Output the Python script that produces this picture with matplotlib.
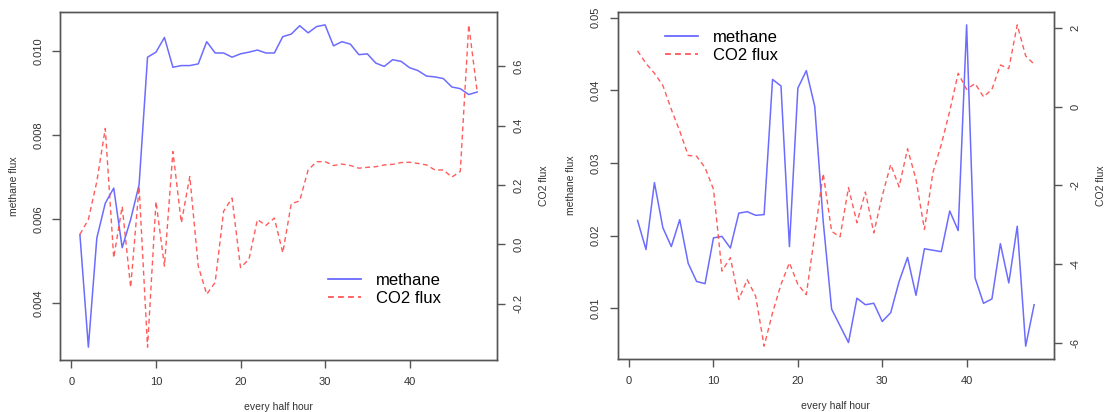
import matplotlib.pyplot as plt
from matplotlib.lines import Line2D

plt.rcParams['font.family'] = ['Liberation Sans', 'DejaVu Sans']

# half-hour index
half_hour = list(range(1, 49))

# first site
methane_a = [0.00563, 0.00295, 0.00555, 0.00638, 0.00674, 0.00532, 0.00599, 0.00682,
             0.00986, 0.00998, 0.01033, 0.00962, 0.00966, 0.00966, 0.00970, 0.01023,
             0.00996, 0.00996, 0.00986, 0.00994, 0.00998, 0.01003, 0.00996, 0.00996,
             0.01035, 0.01041, 0.01061, 0.01044, 0.01059, 0.01063, 0.01013, 0.01023,
             0.01017, 0.00992, 0.00994, 0.00972, 0.00964, 0.00980, 0.00976, 0.00961,
             0.00954, 0.00941, 0.00939, 0.00935, 0.00915, 0.00911, 0.00897, 0.00903]
co2_a = [0.034, 0.084, 0.212, 0.391, -0.045, 0.128, -0.145, 0.195,
         -0.346, 0.145, -0.073, 0.313, 0.073, 0.229, -0.073, -0.168,
         -0.128, 0.112, 0.156, -0.078, -0.050, 0.084, 0.064, 0.089,
         -0.028, 0.137, 0.147, 0.251, 0.279, 0.279, 0.266, 0.271,
         0.266, 0.257, 0.260, 0.262, 0.268, 0.270, 0.276, 0.277,
         0.273, 0.268, 0.251, 0.251, 0.227, 0.246, 0.740, 0.514]

# second site
methane_b = [0.0221, 0.0181, 0.0273, 0.0211, 0.0185, 0.0222, 0.0162, 0.0137,
             0.0134, 0.0197, 0.0199, 0.0183, 0.0231, 0.0233, 0.0228, 0.0229,
             0.0415, 0.0406, 0.0185, 0.0403, 0.0427, 0.0378, 0.0220, 0.0099,
             0.0076, 0.0053, 0.0114, 0.0105, 0.0107, 0.0082, 0.0094, 0.0137,
             0.0170, 0.0118, 0.0182, 0.0180, 0.0178, 0.0234, 0.0207, 0.0490,
             0.0142, 0.0107, 0.0113, 0.0189, 0.0135, 0.0213, 0.0048, 0.0105]
co2_b = [1.42, 1.10, 0.85, 0.54, -0.07, -0.62, -1.24, -1.26,
         -1.55, -2.10, -4.18, -3.84, -4.90, -4.40, -4.82, -6.09,
         -5.24, -4.52, -3.97, -4.52, -4.78, -3.25, -1.70, -3.17,
         -3.31, -2.06, -2.95, -2.17, -3.21, -2.27, -1.47, -2.04,
         -1.07, -1.85, -3.12, -1.68, -0.96, -0.11, 0.85, 0.44,
         0.59, 0.25, 0.44, 1.06, 0.97, 2.08, 1.29, 1.08]

blue = '#5c5cff'
red = '#ff4a4a'
edge = '#555555'
txt = '#333333'


def panel(rect, x, ch4, co2, yticks, yticklabels, y2ticks, y2ticklabels, leg_xy):
    ax = fig.add_axes(rect)
    ax.plot(x, ch4, color=blue, lw=1.1, alpha=0.9)
    ax.margins(x=0.04, y=0.04)
    ax.set_xticks([0, 10, 20, 30, 40])
    ax.set_yticks(yticks)
    ax.set_yticklabels(yticklabels, rotation=90, va='center')
    ax.set_xlabel('every half hour', fontsize=7.5, color=txt, labelpad=11)
    ax.set_ylabel('methane flux', fontsize=7.5, color=txt, labelpad=10.5)

    ax2 = ax.twinx()
    ax2.plot(x, co2, color=red, lw=1.0, alpha=0.9, dashes=(3.5, 2.5))
    ax2.margins(y=0.04)
    ax2.set_yticks(y2ticks)
    ax2.set_yticklabels(y2ticklabels, rotation=90, va='center')
    ax2.set_ylabel('CO2 flux', fontsize=7.5, color=txt, labelpad=11, rotation=90)

    for a in (ax, ax2):
        for s in a.spines.values():
            s.set_color(edge)
            s.set_linewidth(1.0)
        a.tick_params(length=6, width=1.0, color=edge, labelsize=8,
                      labelcolor=txt, pad=6)

    handles = [Line2D([], [], color=blue, lw=1.2),
               Line2D([], [], color=red, lw=1.2, dashes=(3.5, 2.5))]
    fig.legend(handles, ['methane', 'CO2 flux'], loc='upper left',
               bbox_to_anchor=leg_xy, frameon=False, fontsize=12,
               handlelength=2.0, handletextpad=0.9, labelspacing=0.15,
               borderpad=0, borderaxespad=0)
    return ax, ax2


fig = plt.figure(figsize=(11.1, 4.12), dpi=100)

panel([0.0541, 0.1262, 0.3937, 0.8447], half_hour, methane_a, co2_a,
      [0.004, 0.006, 0.008, 0.010], ['0.004', '0.006', '0.008', '0.010'],
      [-0.2, 0.0, 0.2, 0.4, 0.6], ['-0.2', '0.0', '0.2', '0.4', '0.6'],
      (0.2955, 0.337))

panel([0.5565, 0.1286, 0.3930, 0.8422], half_hour, methane_b, co2_b,
      [0.01, 0.02, 0.03, 0.04, 0.05], ['0.01', '0.02', '0.03', '0.04', '0.05'],
      [-6, -4, -2, 0, 2], ['-6', '-4', '-2', '0', '2'],
      (0.599, 0.927))

fig.savefig('out.png', dpi=100)
